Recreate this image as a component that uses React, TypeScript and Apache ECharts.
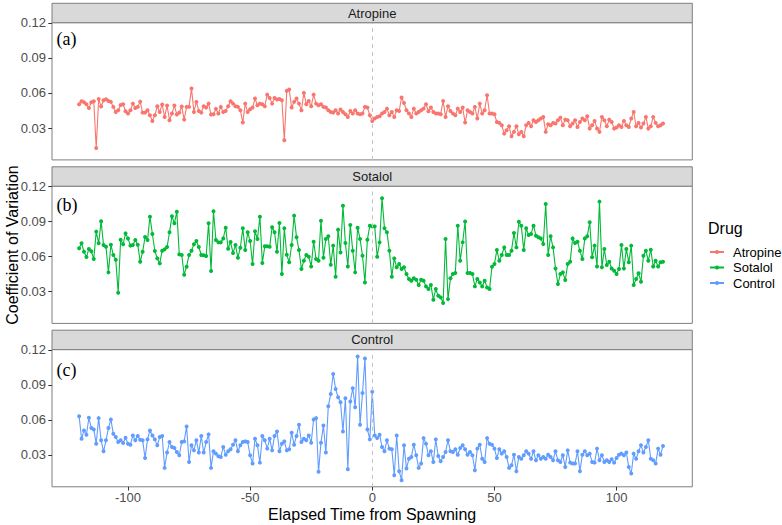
import React, { useEffect, useRef } from "react";
import * as echarts from "echarts";

// Elapsed time of the first observation; one observation per time unit
const TIME_START = -120;

const DRUGS = ["Atropine", "Sotalol", "Control"];
const PANEL_TAGS = ["(a)", "(b)", "(c)"];
const COLORS = ["#F8766D", "#00BA38", "#619CFF"];

const X_TICKS = [-100, -50, 0, 50, 100];
const Y_TICKS = [0.03, 0.06, 0.09, 0.12];

const ATROPINE = [
  0.0504, 0.0529, 0.0521, 0.0504, 0.0472, 0.0521, 0.0529, 0.0129, 0.0549, 0.0484,
  0.0538, 0.0546, 0.0532, 0.0524, 0.0481, 0.0438, 0.0452, 0.0498, 0.0504, 0.0444,
  0.0424, 0.0452, 0.0509, 0.0472, 0.0481, 0.0526, 0.0432, 0.0432, 0.0452, 0.0409,
  0.0361, 0.0409, 0.0486, 0.0438, 0.0501, 0.0395, 0.0492, 0.0367, 0.0424, 0.0492,
  0.0415, 0.0432, 0.0484, 0.0372, 0.0481, 0.0481, 0.0638, 0.0438, 0.0524, 0.0446,
  0.0432, 0.0486, 0.0475, 0.0509, 0.0415, 0.0418, 0.0464, 0.0424, 0.0481, 0.0438,
  0.0446, 0.0486, 0.0529, 0.0509, 0.0486, 0.0481, 0.0452, 0.0347, 0.0509, 0.0438,
  0.0461, 0.0475, 0.0552, 0.0495, 0.0509, 0.0504, 0.0486, 0.0586,
  0.0558, 0.0509, 0.0558, 0.0544, 0.0549, 0.0538, 0.0195, 0.0618, 0.0629, 0.0475,
  0.0524, 0.0552, 0.0509, 0.0452, 0.0601, 0.0504, 0.0532, 0.0486, 0.0586, 0.0509,
  0.0495, 0.0504, 0.0481, 0.0475, 0.0452, 0.0438, 0.0432, 0.0452, 0.0424, 0.0458,
  0.0438, 0.0418, 0.0395, 0.0446, 0.0424, 0.0452, 0.0424, 0.0418, 0.0424, 0.0481,
  0.0475, 0.0409, 0.0361, 0.0381, 0.0395, 0.0401, 0.0424, 0.0438, 0.0466, 0.0409,
  0.0438, 0.0395, 0.0452, 0.0446, 0.0561, 0.0515, 0.0452, 0.0424, 0.0395, 0.0466,
  0.0424, 0.0438, 0.0452, 0.0466, 0.0504, 0.0444, 0.0475, 0.0438, 0.0424, 0.0424,
  0.0418, 0.0532, 0.0395, 0.0486, 0.0446, 0.0424, 0.0409, 0.0466, 0.0438, 0.0475,
  0.0347, 0.0452,
  0.0438, 0.0424, 0.0481, 0.0381, 0.0509, 0.0424, 0.0452, 0.0581, 0.0424, 0.0424,
  0.0418, 0.0352, 0.0344, 0.0324, 0.0252, 0.0281, 0.0315, 0.0229, 0.0267, 0.0315,
  0.0247, 0.0267, 0.0229, 0.0324, 0.0344, 0.0315, 0.0367, 0.0352, 0.0367, 0.0381,
  0.0395, 0.0267, 0.0332, 0.0324, 0.0344, 0.0338, 0.0367, 0.0389, 0.0324, 0.0372,
  0.0367, 0.0315, 0.0338, 0.0367, 0.0309, 0.0352, 0.0381, 0.0367, 0.0401, 0.0295,
  0.0324, 0.0361, 0.0295, 0.0267, 0.0395, 0.0367, 0.0315, 0.0372, 0.0352, 0.0295,
  0.0304, 0.0324, 0.0309, 0.0361, 0.0324, 0.0309, 0.0381, 0.0438, 0.0315, 0.0344,
  0.0304, 0.0338, 0.0395, 0.0295, 0.0315, 0.0395, 0.0344, 0.0315, 0.0324, 0.0338,
];

const SOTALOL = [
  0.0670, 0.0713, 0.0641, 0.0595, 0.0664, 0.0644, 0.0578, 0.0813, 0.0713, 0.0901,
  0.0698, 0.0684, 0.0464, 0.0701, 0.0613, 0.0573, 0.0290, 0.0744, 0.0704, 0.0798,
  0.0755, 0.0693, 0.0698, 0.0741, 0.0701, 0.0555, 0.0641, 0.0767, 0.0741, 0.0941,
  0.0793, 0.0647, 0.0584, 0.0541, 0.0650, 0.0661, 0.0681, 0.0807, 0.0944, 0.0884,
  0.0984, 0.0618, 0.0613, 0.0444, 0.0513, 0.0613, 0.0650, 0.0704, 0.0733, 0.0681,
  0.0613, 0.0610, 0.0604, 0.0884, 0.0475, 0.0987, 0.0741, 0.0721, 0.0721, 0.0755,
  0.0847, 0.0667, 0.0724, 0.0630, 0.0698, 0.0590, 0.0675, 0.0841, 0.0655, 0.0807,
  0.0733, 0.0535, 0.0816, 0.0750, 0.0941, 0.0544, 0.0687, 0.0687,
  0.0684, 0.0850, 0.0807, 0.0641, 0.0887, 0.0450, 0.0841, 0.0615, 0.0550, 0.0698,
  0.0950, 0.0764, 0.0655, 0.0493, 0.0564, 0.0613, 0.0598, 0.0515, 0.0727, 0.0578,
  0.0564, 0.0907, 0.0590, 0.0750, 0.0773, 0.0530, 0.0693, 0.0427, 0.0830, 0.0635,
  0.1035, 0.0715, 0.0515, 0.0870, 0.0650, 0.0464, 0.0847, 0.0750, 0.0607, 0.0378,
  0.0744, 0.0864, 0.0858, 0.0858, 0.0598, 0.0721, 0.1098, 0.0841, 0.0807, 0.0650,
  0.0427, 0.0584, 0.0507, 0.0535, 0.0493, 0.0507, 0.0450, 0.0407, 0.0393, 0.0413,
  0.0401, 0.0355, 0.0401, 0.0393, 0.0344, 0.0321, 0.0355, 0.0230, 0.0321, 0.0264,
  0.0250, 0.0201, 0.0750, 0.0235, 0.0413, 0.0450, 0.0458, 0.0864, 0.0564, 0.0721,
  0.0900, 0.0458,
  0.0458, 0.0450, 0.0344, 0.0407, 0.0378, 0.0344, 0.0393, 0.0335, 0.0321, 0.0513,
  0.0535, 0.0655, 0.0564, 0.0613, 0.0678, 0.0613, 0.0613, 0.0650, 0.0801, 0.0678,
  0.0898, 0.0864, 0.0655, 0.0841, 0.0784, 0.0793, 0.0864, 0.0778, 0.0764, 0.0755,
  0.0707, 0.1050, 0.0613, 0.0773, 0.0678, 0.0498, 0.0364, 0.0450, 0.0464, 0.0398,
  0.0535, 0.0555, 0.0755, 0.0715, 0.0727, 0.0650, 0.0578, 0.0755, 0.0773, 0.0893,
  0.0593, 0.0693, 0.0515, 0.1070, 0.0507, 0.0664, 0.0527, 0.0555, 0.0498, 0.0478,
  0.0450, 0.0493, 0.0698, 0.0498, 0.0664, 0.0550, 0.0693, 0.0355, 0.0407, 0.0456,
  0.0384, 0.0607, 0.0650, 0.0564, 0.0658, 0.0515, 0.0564, 0.0515, 0.0550, 0.0555,
];

const CONTROL = [
  0.0632, 0.0439, 0.0510, 0.0473, 0.0618, 0.0530, 0.0518, 0.0396, 0.0615, 0.0425,
  0.0331, 0.0425, 0.0530, 0.0604, 0.0481, 0.0453, 0.0410, 0.0425, 0.0402, 0.0447,
  0.0396, 0.0388, 0.0467, 0.0425, 0.0462, 0.0430, 0.0425, 0.0274, 0.0433, 0.0510,
  0.0467, 0.0433, 0.0382, 0.0453, 0.0462, 0.0189, 0.0320, 0.0410, 0.0368, 0.0359,
  0.0325, 0.0297, 0.0410, 0.0416, 0.0544, 0.0240, 0.0382, 0.0339, 0.0425, 0.0320,
  0.0462, 0.0320, 0.0410, 0.0476, 0.0189, 0.0331, 0.0311, 0.0288, 0.0283, 0.0368,
  0.0302, 0.0331, 0.0348, 0.0388, 0.0425, 0.0331, 0.0382, 0.0410, 0.0416, 0.0410,
  0.0297, 0.0226, 0.0439, 0.0382, 0.0234, 0.0462, 0.0425, 0.0354,
  0.0439, 0.0339, 0.0462, 0.0501, 0.0331, 0.0396, 0.0416, 0.0339, 0.0348, 0.0490,
  0.0388, 0.0462, 0.0558, 0.0410, 0.0439, 0.0425, 0.0467, 0.0405, 0.0604, 0.0615,
  0.0155, 0.0405, 0.0552, 0.0320, 0.0717, 0.0822, 0.0993, 0.0865, 0.0794, 0.0751,
  0.0501, 0.0785, 0.0178, 0.0757, 0.0871, 0.0709, 0.1143, 0.0558, 0.0831, 0.1126,
  0.0518, 0.0433, 0.0842, 0.0467, 0.0444, 0.0473, 0.0368, 0.0331, 0.0425, 0.0354,
  0.0348, 0.0126, 0.0467, 0.0160, 0.0084, 0.0382, 0.0183, 0.0268, 0.0283, 0.0388,
  0.0297, 0.0189, 0.0226, 0.0444, 0.0396, 0.0297, 0.0331, 0.0240, 0.0433, 0.0291,
  0.0246, 0.0283, 0.0325, 0.0425, 0.0331, 0.0325, 0.0348, 0.0302, 0.0359, 0.0382,
  0.0348, 0.0302,
  0.0325, 0.0297, 0.0169, 0.0354, 0.0388, 0.0268, 0.0240, 0.0444, 0.0396, 0.0388,
  0.0354, 0.0274, 0.0348, 0.0311, 0.0331, 0.0283, 0.0189, 0.0212, 0.0302, 0.0160,
  0.0283, 0.0268, 0.0297, 0.0331, 0.0311, 0.0268, 0.0331, 0.0254, 0.0297, 0.0268,
  0.0283, 0.0268, 0.0302, 0.0283, 0.0254, 0.0331, 0.0254, 0.0240, 0.0297, 0.0197,
  0.0339, 0.0234, 0.0226, 0.0226, 0.0331, 0.0160, 0.0302, 0.0331, 0.0297, 0.0311,
  0.0240, 0.0234, 0.0354, 0.0254, 0.0297, 0.0240, 0.0254, 0.0240, 0.0263, 0.0234,
  0.0274, 0.0302, 0.0311, 0.0297, 0.0320, 0.0197, 0.0141, 0.0311, 0.0268, 0.0331,
  0.0382, 0.0320, 0.0368, 0.0425, 0.0268, 0.0254, 0.0226, 0.0354, 0.0302, 0.0376,
];

const SERIES_VALUES = [ATROPINE, SOTALOL, CONTROL];

const SANS = "Liberation Sans, Arial, sans-serif";
const SERIF = "Liberation Serif, Times New Roman, serif";

export default function App() {
  const ref = useRef<HTMLDivElement>(null);

  useEffect(() => {
    if (!ref.current) return;
    const chart = echarts.init(ref.current, null, { renderer: "svg" });

    const gridLeft = 52;
    const gridWidth = 640.3;
    const gridTops = [22.7, 186.2, 349.6];
    const gridHeight = 137.2;
    const stripHeight = 19.4;

    const grids = gridTops.map((top) => ({
      left: gridLeft,
      top,
      width: gridWidth,
      height: gridHeight,
      show: true,
      borderColor: "#7F7F7F",
      borderWidth: 1,
      backgroundColor: "#FFFFFF",
    }));

    const xAxes = gridTops.map((_, i) => ({
      gridIndex: i,
      type: "value",
      position: "bottom",
      min: -131.1,
      max: 131,
      axisLine: { show: false, onZero: false },
      splitLine: { show: false },
      axisTick: {
        show: i === 2,
        customValues: X_TICKS,
        length: 3.7,
        lineStyle: { color: "#333333", width: 1 },
      },
      axisLabel: {
        show: i === 2,
        customValues: X_TICKS,
        margin: 4,
        fontSize: 13,
        color: "#4D4D4D",
        fontFamily: SANS,
      },
    }));

    const yAxes = gridTops.map((_, i) => ({
      gridIndex: i,
      type: "value",
      position: "left",
      min: 0.0027,
      max: 0.1202,
      axisLine: { show: false, onZero: false },
      splitLine: { show: false },
      axisTick: {
        show: true,
        customValues: Y_TICKS,
        length: 3.7,
        lineStyle: { color: "#333333", width: 1 },
      },
      axisLabel: {
        customValues: Y_TICKS,
        formatter: (v: number) => v.toFixed(2),
        margin: 6,
        fontSize: 13,
        color: "#4D4D4D",
        fontFamily: SANS,
      },
    }));

    const series = DRUGS.map((name, i) => ({
      name,
      type: "line",
      xAxisIndex: i,
      yAxisIndex: i,
      data: SERIES_VALUES[i].map((v, k) => [TIME_START + k, v]),
      symbol: "circle",
      symbolSize: 4,
      showSymbol: true,
      lineStyle: { color: COLORS[i], width: 1.1 },
      itemStyle: { color: COLORS[i] },
      emphasis: { disabled: true },
      markLine: {
        silent: true,
        symbol: ["none", "none"],
        label: { show: false },
        lineStyle: { color: "#C4C4C4", type: [4, 4], width: 1 },
        data: [{ xAxis: 0 }],
      },
      z: 3,
    }));

    const graphics: any[] = [];
    gridTops.forEach((top, i) => {
      graphics.push({
        type: "rect",
        shape: { x: gridLeft, y: top - stripHeight, width: gridWidth, height: stripHeight },
        style: { fill: "#D9D9D9", stroke: "#7F7F7F", lineWidth: 1 },
        z: 10,
      });
      graphics.push({
        type: "text",
        x: gridLeft + gridWidth / 2,
        y: top - stripHeight / 2,
        style: {
          text: DRUGS[i],
          fontSize: 13,
          fontFamily: SANS,
          fill: "#1A1A1A",
          align: "center",
          verticalAlign: "middle",
        },
        z: 11,
      });
    });
    const tagY = [39.3, 205, 370];
    PANEL_TAGS.forEach((tag, i) => {
      graphics.push({
        type: "text",
        x: 56.5,
        y: tagY[i],
        style: {
          text: tag,
          fontSize: 18,
          fontFamily: SERIF,
          fill: "#000000",
          align: "left",
          verticalAlign: "middle",
        },
        z: 11,
      });
    });
    graphics.push({
      type: "text",
      x: 12,
      y: 245,
      rotation: Math.PI / 2,
      style: {
        text: "Coefficient of Variation",
        fontSize: 16,
        fontFamily: SANS,
        fill: "#000000",
        align: "center",
        verticalAlign: "middle",
      },
    });
    graphics.push({
      type: "text",
      x: gridLeft + gridWidth / 2,
      y: 514,
      style: {
        text: "Elapsed Time from Spawning",
        fontSize: 16,
        fontFamily: SANS,
        fill: "#000000",
        align: "center",
        verticalAlign: "middle",
      },
    });
    graphics.push({
      type: "text",
      x: 708,
      y: 228.5,
      style: {
        text: "Drug",
        fontSize: 16,
        fontFamily: SANS,
        fill: "#000000",
        align: "left",
        verticalAlign: "middle",
      },
    });

    chart.setOption({
      animation: false,
      backgroundColor: "#FFFFFF",
      textStyle: { fontFamily: SANS },
      grid: grids,
      xAxis: xAxes,
      yAxis: yAxes,
      series,
      legend: {
        orient: "vertical",
        left: 709,
        top: 245.5,
        padding: 0,
        itemWidth: 14,
        itemHeight: 5,
        itemGap: 2.5,
        selectedMode: false,
        textStyle: {
          fontSize: 13,
          color: "#000000",
          fontFamily: SANS,
          padding: [0, 0, 0, 4],
        },
        data: DRUGS,
      },
      graphic: graphics,
    });

    return () => {
      chart.dispose();
    };
  }, []);

  return (
    <div
      ref={ref}
      style={{ position: "fixed", left: 0, top: 0, width: 782, height: 525 }}
    />
  );
}
